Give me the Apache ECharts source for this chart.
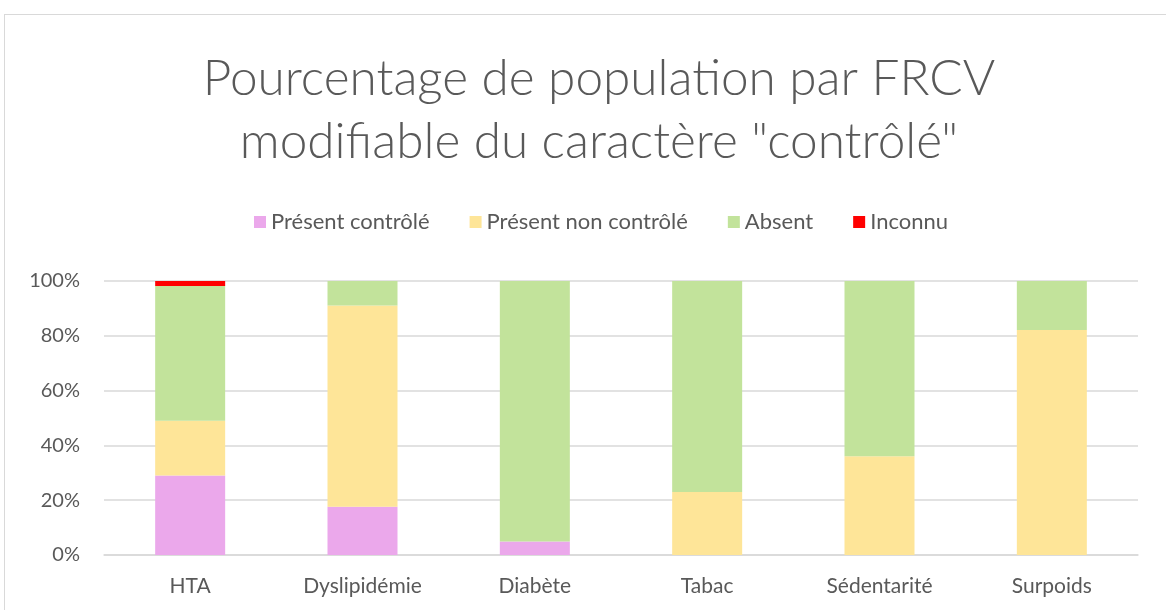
<!DOCTYPE html>
<html>
<head>
<meta charset="utf-8">
<script src="https://cdn.jsdelivr.net/npm/echarts@6/dist/echarts.min.js"></script>
<style>
  html, body { margin: 0; padding: 0; background: #fff; }
  #frame { position: absolute; left: 4px; top: 14px; width: 1200px; height: 700px; border: 1px solid #d9d9d9; }
  #chart { position: absolute; left: 0; top: 0; width: 1166px; height: 610px; }
</style>
</head>
<body>
<div id="frame"></div>
<div id="chart"></div>
<script>
const categories = ['HTA', 'Dyslipidémie', 'Diabète', 'Tabac', 'Sédentarité', 'Surpoids'];
const presentControle = [29, 17.6, 4.9, 0, 0, 0];
const presentNonControle = [20, 73.5, 0, 23, 36, 82.1];
const absent = [49.2, 8.9, 95.1, 77, 64, 17.9];
const inconnu = [1.8, 0, 0, 0, 0, 0];

const font = 'Lato';
const textColor = '#595959';

const chart = echarts.init(document.getElementById('chart'));

function bar(name, data, color) {
  return {
    name: name,
    type: 'bar',
    stack: 'total',
    barWidth: 70,
    data: data,
    itemStyle: { color: color },
    emphasis: { disabled: true }
  };
}

chart.setOption({
  animation: false,
  title: {
    text: 'Pourcentage de population par FRCV\nmodifiable du caractère "contrôlé"',
    left: 594,
    textAlign: 'center',
    top: 43,
    textStyle: { fontFamily: font, fontWeight: 300, fontSize: 49.5, color: textColor, lineHeight: 63 }
  },
  legend: {
    top: 206,
    left: 249,
    itemWidth: 12,
    itemHeight: 12,
    itemGap: 40,
    icon: 'rect',
    textStyle: { fontFamily: font, fontSize: 22, color: textColor },
    data: ['Présent contrôlé', 'Présent non contrôlé', 'Absent', 'Inconnu']
  },
  grid: { left: 104, right: 28, top: 281, bottom: 55 },
  xAxis: {
    type: 'category',
    data: categories,
    axisLine: { lineStyle: { color: '#d9d9d9', width: 1.5 } },
    axisTick: { show: false },
    axisLabel: { fontFamily: font, fontSize: 21, color: textColor, margin: 21 }
  },
  yAxis: {
    type: 'value',
    min: 0,
    max: 100,
    interval: 20,
    axisLine: { show: false },
    axisTick: { show: false },
    splitLine: { lineStyle: { color: '#d9d9d9', width: 1.5 } },
    axisLabel: { formatter: '{value}%', fontFamily: font, fontSize: 20, color: textColor, margin: 24 }
  },
  series: [
    bar('Présent contrôlé', presentControle, '#eba8eb'),
    bar('Présent non contrôlé', presentNonControle, '#fee598'),
    bar('Absent', absent, '#c2e39b'),
    bar('Inconnu', inconnu, '#ff0000')
  ]
});
</script>
</body>
</html>
